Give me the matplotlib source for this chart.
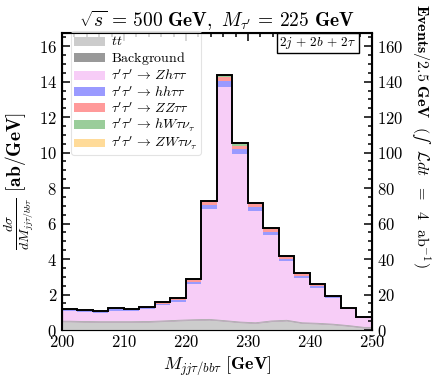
import numpy as np
import matplotlib
matplotlib.use("Agg")
import matplotlib.pyplot as plt
from matplotlib.patches import Patch
from matplotlib.ticker import MultipleLocator, FuncFormatter

plt.rcParams['mathtext.fontset'] = 'cm'
plt.rcParams['font.family'] = ['DejaVu Serif']

# ---- data (dsigma/dM in ab/GeV, 2.5 GeV bins) ----
edges = np.arange(200, 252.5, 2.5)
ttbar = [0.47, 0.45, 0.44, 0.44, 0.44, 0.45, 0.48, 0.52, 0.55, 0.57,
         0.50, 0.42, 0.38, 0.48, 0.52, 0.38, 0.35, 0.30, 0.22, 0.12]
background = [0.03, 0.03, 0.03, 0.03, 0.03, 0.03, 0.03, 0.03, 0.03, 0.03,
              0.03, 0.03, 0.03, 0.03, 0.03, 0.03, 0.03, 0.03, 0.03, 0.03]
zh = [0.55, 0.53, 0.51, 0.62, 0.60, 0.69, 0.88, 1.04, 2.02, 6.25,
      13.17, 9.47, 6.30, 4.85, 3.33, 2.55, 2.01, 1.46, 0.92, 0.53]
hh = [0.06, 0.06, 0.06, 0.07, 0.07, 0.08, 0.09, 0.10, 0.13, 0.22,
      0.32, 0.28, 0.22, 0.18, 0.14, 0.11, 0.09, 0.06, 0.04, 0.02]
zz = [0.03, 0.03, 0.03, 0.03, 0.03, 0.03, 0.05, 0.05, 0.08, 0.13,
      0.22, 0.20, 0.16, 0.15, 0.11, 0.09, 0.07, 0.05, 0.03, 0.02]
hw = [0.02, 0.02, 0.01, 0.02, 0.02, 0.02, 0.02, 0.03, 0.04, 0.07,
      0.10, 0.09, 0.07, 0.06, 0.05, 0.04, 0.03, 0.02, 0.01, 0.01]
zw = [0.01, 0.01, 0.01, 0.01, 0.01, 0.01, 0.01, 0.01, 0.01, 0.02,
      0.03, 0.03, 0.02, 0.02, 0.01, 0.01, 0.01, 0.01, 0.01, 0.00]

labels = [r'$t\bar{t}$', r'$\mathrm{Background}$',
          r"$\tau'\tau'\,\rightarrow\,Zh\tau\tau$",
          r"$\tau'\tau'\,\rightarrow\,hh\tau\tau$",
          r"$\tau'\tau'\,\rightarrow\,ZZ\tau\tau$",
          r"$\tau'\tau'\,\rightarrow\,hW\tau\nu_\tau$",
          r"$\tau'\tau'\,\rightarrow\,ZW\tau\nu_\tau$"]
colors = ['#cccccc', '#999999', '#f7cdf7', '#9a9aff', '#ff9a9a', '#9acd9a', '#ffdb99']

lumi_factor = 2.5 * 4.0  # events per bin = dsigma/dM * bin width * luminosity

fig = plt.figure(figsize=(4.36, 3.82), dpi=100)
ax = fig.add_axes([0.142, 0.136, 0.711, 0.778])

tt = np.array(ttbar)
bk = np.array(background)
bg = tt + bk
layers = [np.array(zh), np.array(hh), np.array(zz), np.array(hw), np.array(zw)]

cum = bg.copy()
tops = []
for arr in layers:
    cum = cum + arr
    tops.append(cum.copy())
prev = np.zeros_like(bg)
for top, c in zip(tops, colors[2:]):
    ax.stairs(top, edges, baseline=prev, fill=True, color=c, lw=0, zorder=2)
    prev = top

centers = 0.5 * (edges[:-1] + edges[1:])
xs = np.concatenate([[edges[0]], centers, [edges[-1]]])
tts = np.concatenate([[tt[0]], tt, [tt[-1]]])
bgs = np.concatenate([[bg[0]], bg, [bg[-1]]])
ax.fill_between(xs, 0, tts, color=colors[0], lw=0, zorder=3)
ax.fill_between(xs, tts, bgs, color=colors[1], lw=0, zorder=3)
ax.plot(xs, bgs, color='#aaaaaa', lw=0.6, zorder=3)

total = tops[-1]
ax.stairs(total, edges, color='black', lw=1.4, zorder=4)

ymax = 16.75
ax.set_xlim(200, 250)
ax.set_ylim(0, ymax)

bold_fmt = FuncFormatter(lambda v, p: r'$\mathbf{%d}$' % round(v))
ax.xaxis.set_major_locator(MultipleLocator(10))
ax.xaxis.set_minor_locator(MultipleLocator(2))
ax.yaxis.set_major_locator(MultipleLocator(2))
ax.yaxis.set_minor_locator(MultipleLocator(0.5))
ax.xaxis.set_major_formatter(bold_fmt)
ax.yaxis.set_major_formatter(bold_fmt)
ax.tick_params(which='both', direction='in', top=True, right=False, labelsize=12, width=1.1)
ax.tick_params(which='major', length=6)
ax.tick_params(which='minor', length=3)
ax.tick_params(axis='x', pad=3)
for s in ax.spines.values():
    s.set_linewidth(1.5)

ax2 = ax.twinx()
ax2.set_ylim(0, ymax * lumi_factor)
ax2.yaxis.set_major_locator(MultipleLocator(20))
ax2.yaxis.set_minor_locator(MultipleLocator(5))
ax2.yaxis.set_major_formatter(bold_fmt)
ax2.tick_params(which='both', direction='in', labelsize=12, width=1.1)
ax2.tick_params(which='major', length=6)
ax2.tick_params(which='minor', length=3)

ax.set_xlabel(r'$M_{jj\tau/bb\tau}\ \mathbf{[GeV]}$', fontsize=13, labelpad=2)
ax.set_ylabel(r'$\frac{d\sigma}{dM_{jj\tau/bb\tau}}\ \mathbf{[ab/GeV]}$', fontsize=14)
ax.yaxis.set_label_coords(-0.085, 0.5)
fig.text(0.9656, 0.645,
         '$\\mathbf{Events/2.5\\ GeV}\\ \\ (\u222b\\ \\ \\mathcal{L}dt\\ \\ =\\ \\ 4\\ \\ \\mathrm{ab}^{-1})$',
         fontsize=11.5, rotation=270, ha='center', va='center')
ax.set_title(r"$\sqrt{s}\,=\,\mathbf{500\ GeV},\ M_{\tau'}\,=\,\mathbf{225\ GeV}$",
             fontsize=14, pad=3)

ax.text(0.826, 0.965, r'$2j\,+\,2b\,+\,2\tau$', transform=ax.transAxes, ha='center', va='center',
        fontsize=9.5, zorder=6,
        bbox=dict(boxstyle='square,pad=0.15', fc='white', ec='black', lw=1.0))

handles = [Patch(facecolor=c, edgecolor='none') for c in colors]
leg = ax.legend(handles, labels, loc='upper left', bbox_to_anchor=(0.03, 1.005), fontsize=10,
                frameon=True, fancybox=True,
                handlelength=2.2, handleheight=0.6, labelspacing=0.08, borderpad=0.2,
                handletextpad=0.5, borderaxespad=0.0)
leg.get_frame().set_edgecolor('#dddddd')
leg.get_frame().set_linewidth(0.8)
leg.set_zorder(5)

fig.savefig('out.png', dpi=100)
